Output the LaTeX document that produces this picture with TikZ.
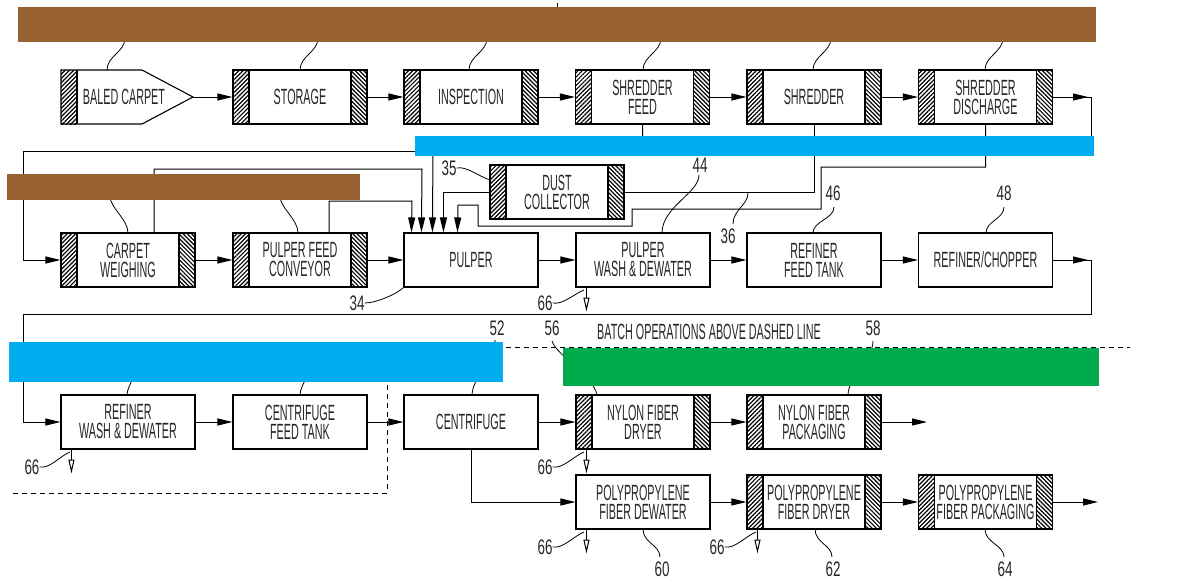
\documentclass[tikz,border=0pt]{standalone}
\usepackage{fontspec}
\usetikzlibrary{arrows.meta,patterns.meta}
\newfontfamily\dgcond[FakeStretch=0.49]{Liberation Sans}
\newfontfamily\dgcondnum[FakeStretch=0.64]{Liberation Sans}
\newcommand\dgboxfont{\dgcond\fontsize{22}{19}\selectfont}
\newcommand\dgnumfont{\dgcondnum\fontsize{21}{21}\selectfont}
\definecolor{barbrown}{RGB}{151,97,48}
\definecolor{barblue}{RGB}{0,174,239}
\definecolor{bargreen}{RGB}{0,171,78}
\tikzset{
  box/.style={draw, line width=1.1pt, minimum width=134pt, minimum height=54pt, inner sep=0pt, align=center, font=\dgboxfont, text=black!85},
  hbox/.style={box, path picture={
     \fill[pattern={Lines[angle=45,distance=3pt,line width=1.2pt]}] (path picture bounding box.south west) rectangle ([xshift=16pt]path picture bounding box.north west);
     \draw[line width=1.1pt] ([xshift=16pt]path picture bounding box.south west) -- ([xshift=16pt]path picture bounding box.north west);
     \fill[pattern={Lines[angle=-45,distance=3pt,line width=1.2pt]}] (path picture bounding box.south east) rectangle ([xshift=-16pt]path picture bounding box.north east);
     \draw[line width=1.1pt] ([xshift=-16pt]path picture bounding box.south east) -- ([xshift=-16pt]path picture bounding box.north east);
  }},
  ln/.style={line width=1pt},
  arr/.style={line width=1pt, -{Triangle[length=15pt,width=7pt]}},
  drain/.style={line width=1pt, -{Triangle[open,length=14pt,width=6pt]}},
  lead/.style={line width=0.8pt},
  num/.style={font=\dgnumfont, inner sep=0pt, text=black!85},
}
\begin{document}
\begin{tikzpicture}[x=1pt,y=-1pt]
\useasboundingbox (0,0) rectangle (1181,581);

% ---------- row 1 ----------
\fill[pattern={Lines[angle=45,distance=3pt,line width=1.2pt]}] (61,70) rectangle (77,124);
\draw[line width=1.1pt] (61,70) -- (142,70) -- (193,97) -- (142,124) -- (61,124) -- cycle;
\draw[line width=1.1pt] (77,70) -- (77,124);
\node[font=\dgboxfont, inner sep=0pt, text=black!85] (bc) at (124,97) {BALED CARPET};
\coordinate (bctip) at (193,97);
\node[hbox] (stor) at (300,97) {STORAGE};
\node[hbox] (insp) at (471,97) {INSPECTION};
\node[hbox] (sfeed) at (642.5,97) {SHREDDER\\FEED};
\node[hbox] (shred) at (814,97) {SHREDDER};
\node[hbox] (sdis) at (985.5,97) {SHREDDER\\DISCHARGE};

% ---------- dust collector ----------
\node[hbox] (dust) at (557,192) {DUST\\COLLECTOR};

% ---------- row 2 ----------
\node[hbox] (cw) at (128,260) {CARPET\\WEIGHING};
\node[hbox] (pfc) at (300,260) {PULPER FEED\\CONVEYOR};
\node[box] (pulp) at (471,260) {PULPER};
\node[box] (pwash) at (643,260) {PULPER\\WASH \& DEWATER};
\node[box] (rft) at (814,260) {REFINER\\FEED TANK};
\node[box] (rchop) at (985.5,260) {REFINER/CHOPPER};

% ---------- row 3 ----------
\node[box] (rwash) at (128,422) {REFINER\\WASH \& DEWATER};
\node[box] (cft) at (300,422) {CENTRIFUGE\\FEED TANK};
\node[box] (centr) at (471,422) {CENTRIFUGE};
\node[hbox] (nfd) at (643,422) {NYLON FIBER\\DRYER};
\node[hbox] (nfp) at (814,422) {NYLON FIBER\\PACKAGING};

% ---------- row 4 ----------
\node[box] (ppdw) at (643,502) {POLYPROPYLENE\\FIBER DEWATER};
\node[hbox] (ppdry) at (814,502) {POLYPROPYLENE\\FIBER DRYER};
\node[hbox] (pppack) at (985.5,502) {POLYPROPYLENE\\FIBER PACKAGING};

% ---------- main flow arrows ----------
\draw[arr] (bctip) -- (stor.west);
\draw[arr] (stor) -- (insp);
\draw[arr] (insp) -- (sfeed);
\draw[arr] (sfeed) -- (shred);
\draw[arr] (shred) -- (sdis);
\coordinate (r1a) at (1091,97);
\coordinate (r1b) at (1091,151);
\coordinate (r1c) at (23,151);
\draw[arr] (sdis.east) -- (1088,97);
\draw[arr] (sdis.east) -- (r1a) -- (r1b) -- (r1c) |- (cw.west);

\draw[arr] (cw) -- (pfc);
\draw[arr] (pfc) -- (pulp);
\draw[arr] (pulp) -- (pwash);
\draw[arr] (pwash) -- (rft);
\draw[arr] (rft) -- (rchop);
\coordinate (r2a) at (1091,260);
\coordinate (r2b) at (1091,314);
\coordinate (r2c) at (23,314);
\draw[arr] (rchop.east) -- (1088,260);
\draw[arr] (rchop.east) -- (r2a) -- (r2b) -- (r2c) |- (rwash.west);

\draw[arr] (rwash) -- (cft);
\draw[arr] (cft) -- (centr);
\draw[arr] (centr) -- (nfd);
\draw[arr] (nfd) -- (nfp);
\coordinate (nfpend) at (927,422);
\draw[arr] (nfp.east) -- (nfpend);

\draw[arr] (centr.south) |- (ppdw.west);
\draw[arr] (ppdw) -- (ppdry);
\draw[arr] (ppdry) -- (pppack);
\coordinate (ppend) at (1098,502);
\draw[arr] (pppack.east) -- (ppend);

% ---------- feeds into pulper ----------
\draw[arr] ([xshift=26pt]cw.north) |- (422,169) -- ([xshift=18pt]pulp.north west);
\draw[arr] ([xshift=29pt]pfc.north) |- (412,201) -- ([xshift=8pt]pulp.north west);
\draw[arr] (sfeed.south) |- (433,146) -- ([xshift=29pt]pulp.north west);
\draw[ln] (shred.south) |- (dust.east);
\draw[arr] (dust.west) -| ([xshift=40pt]pulp.north west);
\draw[arr] (sdis.south) |- (821,167) |- (632,209) |- (478,226) |- (458,205) -- ([xshift=54pt]pulp.north west);

% ---------- drains (66) ----------
\draw[drain] ([xshift=11pt]pwash.south west) -- ++(0,24);
\draw[drain] ([xshift=11pt]rwash.south west) -- ++(0,24);
\draw[drain] ([xshift=11pt]nfd.south west) -- ++(0,24);
\draw[drain] ([xshift=11pt]ppdw.south west) -- ++(0,24);
\draw[drain] ([xshift=11pt]ppdry.south west) -- ++(0,24);

\node[num] (n66a) at (545,303) {66};
\draw[lead] (n66a.east) .. controls +(10,2) and +(-10,4) .. (584,290);
\node[num] (n66b) at (32,467) {66};
\draw[lead] (n66b.east) .. controls +(10,2) and +(-10,4) .. (70,452);
\node[num] (n66c) at (545,467) {66};
\draw[lead] (n66c.east) .. controls +(10,2) and +(-10,4) .. (584,452);
\node[num] (n66d) at (545,547) {66};
\draw[lead] (n66d.east) .. controls +(10,2) and +(-10,4) .. (584,532);
\node[num] (n66e) at (717,547) {66};
\draw[lead] (n66e.east) .. controls +(10,2) and +(-10,4) .. (756,532);

% ---------- reference numerals ----------
\node[num] (n34) at (357,303) {34};
\draw[lead] (n34.east) .. controls +(12,0) and +(-6,6) .. (pulp.south west);
\node[num] (n35) at (449,168) {35};
\draw[lead] (n35.east) .. controls +(10,-2) and +(-12,-4) .. (490,180);
\node[num] (n36) at (728,236) {36};
\draw[lead] (733,224) .. controls +(0,-14) and +(0,12) .. (748,193);
\node[num] (n44) at (700,165) {44};
\draw[lead] (699,175) .. controls +(0,18) and +(0,-26) .. (662,233);
\node[num] (n46) at (833,193) {46};
\draw[lead] (834,207) .. controls +(0,12) and +(0,-12) .. (813,233);
\node[num] (n48) at (1004,193) {48};
\draw[lead] (1004,207) .. controls +(0,12) and +(0,-12) .. (986,233);
\node[num] (n52) at (497,328) {52};
\node[num] (n56) at (552,328) {56};
\draw[lead] (552,341) .. controls +(4,14) and +(-4,-20) .. (597,395);
\node[num] (n58) at (873,328) {58};
\draw[lead] (873,341) .. controls +(0,18) and +(0,-18) .. (848,395);
\node[num] (n60) at (662,569) {60};
\draw[lead] (643,529) .. controls +(0,14) and +(0,-12) .. (660,557);
\node[num] (n62) at (833,569) {62};
\draw[lead] (815,529) .. controls +(0,14) and +(0,-12) .. (832,557);
\node[num] (n64) at (1005,569) {64};
\draw[lead] (985,529) .. controls +(0,14) and +(0,-12) .. (1004,557);

\node[font=\dgboxfont, inner sep=0pt, anchor=west, text=black!85] (batch) at (597,332) {BATCH OPERATIONS ABOVE DASHED LINE};

% ---------- leaders hidden under bars ----------
\foreach \xx in {107,300,469,643,813,985}
  \draw[lead] (\xx,70) .. controls +(0,-14) and +(0,14) .. (\xx+18,38);
\draw[lead] (128,233) .. controls +(0,-14) and +(0,12) .. (110,196);
\draw[lead] (298,233) .. controls +(0,-14) and +(0,12) .. (280,196);
\draw[lead] (127,395) .. controls +(0,-10) and +(0,10) .. (140,360);
\draw[lead] (300,395) .. controls +(0,-10) and +(0,10) .. (313,360);
\draw[lead] (472,395) .. controls +(0,-16) and +(0,16) .. (495,340);
\draw[lead] (557,3) -- (557,8);

% ---------- dashed boundary ----------
\draw[line width=1pt, dash pattern=on 5pt off 4pt] (13,493) -- (387,493) -- (387,347) -- (1130,347);

% ---------- colour bars ----------
\fill[barbrown] (18,7) rectangle (1096,42);
\fill[barblue] (415,136) rectangle (1094,156);
\fill[barbrown] (7,174) rectangle (360,200);
\fill[barblue] (9,342) rectangle (503,382);
\fill[bargreen] (563,348) rectangle (1099,386);
\end{tikzpicture}
\end{document}
